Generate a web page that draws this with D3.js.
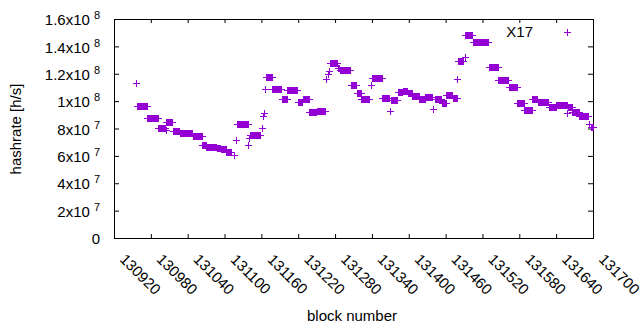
<!DOCTYPE html>
<html>
<head>
<meta charset="utf-8">
<script src="https://cdn.jsdelivr.net/npm/d3@7"></script>
<style>
  body { margin: 0; background: #fff; }
  svg { display: block; font-family: "Liberation Sans", Arial, sans-serif; }
</style>
</head>
<body>
<script>
// Runs of blocks with the same hashrate (block from, block to, hashrate in 1e6 h/s)
const runStart = [130956,130958,130974,130975,130992,131004,131005,131016,131027,131048,
  131064,131070,131087,131094,131103,131115,131118,131121,131139,131140,
  131142,131161,131163,131165,131166,131168,131178,131193,131202,131219,
  131227,131238,131250,131265,131268,131270,131272,131284,131288,131306,
  131315,131323,131339,131340,131357,131369,131371,131382,131390,131398,
  131406,131417,131427,131440,131443,131454,131461,131472,131479,131480,
  131491,131492,131504,131530,131546,131563,131577,131588,131601,131610,
  131628,131640,131658,131659,131666,131678,131693,131696];
const runEnd = [130956,130973,130974,130991,131003,131004,131015,131026,131047,131063,
  131069,131086,131093,131102,131110,131115,131118,131138,131139,131140,
  131158,131161,131163,131165,131166,131177,131192,131201,131218,131226,
  131237,131249,131263,131265,131268,131270,131283,131287,131305,131314,
  131322,131336,131339,131356,131368,131369,131381,131389,131397,131405,
  131416,131426,131438,131440,131453,131460,131471,131478,131479,131489,
  131491,131503,131529,131545,131562,131576,131587,131600,131609,131627,
  131639,131657,131658,131665,131677,131692,131693,131700];
const runValue = [113,96.5,88,87.5,80.5,79,84.5,78,76.5,74.4,
  67.7,66.7,66,65,63,60.5,71.8,83,68,73.3,
  75.2,80.6,89,91,108.6,117.4,108.6,101.5,107.8,99.6,
  101.3,91.8,93,116.4,119.6,122,127.6,124,122.5,111.5,
  106,101.8,112,116.7,102,92.8,100.5,106.9,107.6,106,
  104,101.5,102.8,94,101.3,98.8,104.2,102.5,116,129,
  132,148.3,143,124.7,115.2,110.1,98.8,93.5,101.3,99.1,
  96,97.2,91,95.5,91.8,88.9,83,80.9];

const xTicks = d3.range(130920, 131701, 60);
const yTicks = [0, 2e7, 4e7, 6e7, 8e7, 1e8, 1.2e8, 1.4e8, 1.6e8];
const yTickMantissa = ["0", "2x10", "4x10", "6x10", "8x10", "1x10", "1.2x10", "1.4x10", "1.6x10"];
const yTickExponent = ["", "7", "7", "7", "7", "8", "8", "8", "8"];
const seriesName = "X17";

const width = 640, height = 330;
const plot = { left: 114, right: 593, top: 19, bottom: 238 };
const color = "#9400d3";

const svg = d3.select("body").append("svg")
  .attr("width", width)
  .attr("height", height);

const x = d3.scaleLinear().domain([130920, 131700]).range([plot.left, plot.right]);
const y = d3.scaleLinear().domain([0, 1.6e8]).range([plot.bottom, plot.top]);

// one point per block inside each run
const points = runStart.flatMap((s, i) =>
  d3.range(s, runEnd[i] + 1).map(b => ({ block: b, rate: runValue[i] * 1e6 })));

const plus = (cx, cy) => {
  const px = Math.round(cx) + 0.5, py = Math.round(cy) + 0.5;
  return `M${px - 3.5},${py}H${px + 3.5}M${px},${py - 3.5}V${py + 3.5}`;
};

// Axes (ticks point inward, mirrored on top/right)
const bottomAxis = svg.append("g")
  .attr("transform", `translate(0,${plot.bottom})`)
  .call(d3.axisBottom(x).tickValues(xTicks).tickSize(-4).tickFormat(d3.format("d")));
bottomAxis.selectAll("text")
  .attr("y", null).attr("dy", null)
  .attr("text-anchor", "middle")
  .attr("dominant-baseline", "central")
  .attr("transform", "translate(26,36) rotate(45)");

svg.append("g")
  .attr("transform", `translate(0,${plot.top})`)
  .call(d3.axisTop(x).tickValues(xTicks).tickSize(-4).tickFormat(""));

const leftAxis = svg.append("g")
  .attr("transform", `translate(${plot.left},0)`)
  .call(d3.axisLeft(y).tickValues(yTicks).tickSize(-5).tickPadding(14).tickFormat(""));
leftAxis.selectAll(".tick text").each(function(d, i) {
  const t = d3.select(this).attr("dy", "0.38em");
  t.append("tspan").text(yTickMantissa[i]);
  if (yTickExponent[i]) {
    t.append("tspan").attr("dx", 4).attr("dy", -6).attr("font-size", 11).text(yTickExponent[i]);
  }
});

svg.append("g")
  .attr("transform", `translate(${plot.right},0)`)
  .call(d3.axisRight(y).tickValues(yTicks).tickSize(-5).tickFormat(""));

svg.selectAll(".domain").remove();
svg.selectAll(".tick line").attr("stroke", "#000");
svg.selectAll(".tick text").attr("font-size", 15).attr("font-family", "Liberation Sans, Arial, sans-serif").attr("fill", "#000");

// Border
svg.append("rect")
  .attr("x", plot.left + 0.5).attr("y", plot.top + 0.5)
  .attr("width", plot.right - plot.left).attr("height", plot.bottom - plot.top)
  .attr("fill", "none").attr("stroke", "#000");

// Axis titles
svg.append("text")
  .attr("x", 352).attr("y", 321)
  .attr("text-anchor", "middle").attr("font-size", 15)
  .text("block number");

svg.append("text")
  .attr("transform", "translate(21,129) rotate(-90)")
  .attr("text-anchor", "middle").attr("font-size", 15)
  .text("hashrate [h/s]");

// Points
svg.append("g")
  .selectAll("path")
  .data(points)
  .join("path")
  .attr("d", d => plus(x(d.block), y(d.rate)))
  .attr("stroke", color)
  .attr("fill", "none");

// Legend
svg.append("text")
  .attr("x", 533).attr("y", 37)
  .attr("text-anchor", "end").attr("font-size", 15)
  .text(seriesName);
svg.append("path")
  .attr("d", plus(567, 32))
  .attr("stroke", color);
</script>
</body>
</html>
